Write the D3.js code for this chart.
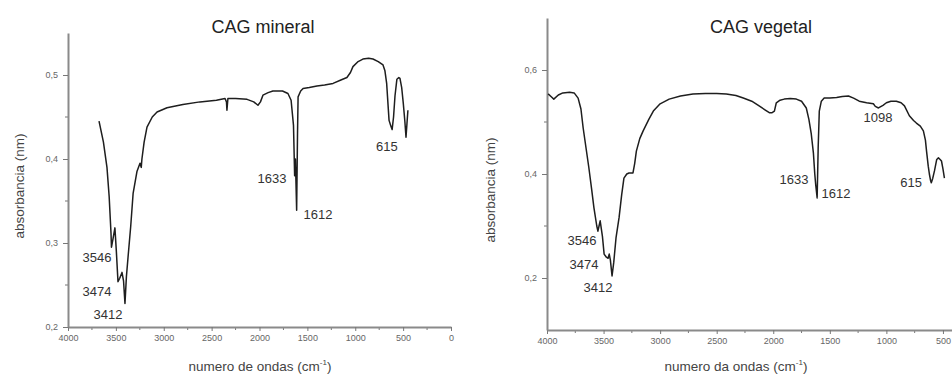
<!DOCTYPE html>
<html>
<head>
<meta charset="utf-8">
<script src="https://cdn.jsdelivr.net/npm/d3@7"></script>
<style>
  body { margin: 0; background: #fff; }
  svg { display: block; font-family: "Liberation Sans", Arial, sans-serif; }
</style>
</head>
<body>
<script>
// spectra (wavenumber cm-1, absorbance)
var mineralWave = [3676, 3630, 3593, 3570, 3551, 3546, 3530, 3510, 3495, 3478, 3460, 3436, 3420, 3405, 3390, 3373, 3345, 3320, 3280, 3248, 3235, 3228, 3205, 3175, 3120, 3070, 2966, 2800, 2622, 2450, 2360, 2345, 2340, 2330, 2250, 2130, 2060, 2016, 1990, 1964, 1910, 1860, 1760, 1703, 1670, 1645, 1633, 1625, 1612, 1603, 1597, 1570, 1545, 1480, 1400, 1320, 1232, 1150, 1087, 1050, 1024, 970, 920, 860, 815, 760, 710, 690, 672, 655, 647, 630, 615, 600, 585, 565, 545, 533, 515, 498, 482, 470, 460, 450];
var mineralAbs  = [0.445, 0.42, 0.39, 0.355, 0.312, 0.295, 0.305, 0.318, 0.29, 0.254, 0.258, 0.265, 0.255, 0.228, 0.26, 0.283, 0.32, 0.359, 0.385, 0.395, 0.39, 0.40, 0.42, 0.438, 0.45, 0.456, 0.461, 0.465, 0.468, 0.47, 0.472, 0.468, 0.458, 0.472, 0.472, 0.471, 0.468, 0.464, 0.468, 0.476, 0.479, 0.481, 0.481, 0.478, 0.47, 0.44, 0.38, 0.40, 0.339, 0.43, 0.474, 0.481, 0.484, 0.485, 0.487, 0.488, 0.490, 0.494, 0.497, 0.503, 0.510, 0.516, 0.519, 0.520, 0.519, 0.516, 0.512, 0.505, 0.49, 0.46, 0.446, 0.44, 0.435, 0.45, 0.475, 0.495, 0.497, 0.496, 0.485, 0.466, 0.445, 0.426, 0.442, 0.458];

var vegetalWave = [3990, 3960, 3940, 3900, 3860, 3800, 3760, 3725, 3700, 3680, 3655, 3630, 3605, 3585, 3560, 3550, 3540, 3530, 3510, 3495, 3475, 3460, 3450, 3440, 3425, 3410, 3390, 3363, 3340, 3320, 3295, 3275, 3240, 3225, 3210, 3180, 3150, 3100, 3060, 3000, 2920, 2820, 2710, 2600, 2500, 2415, 2330, 2265, 2190, 2125, 2070, 2035, 2010, 1990, 1973, 1940, 1903, 1850, 1796, 1750, 1708, 1685, 1664, 1645, 1633, 1625, 1612, 1603, 1593, 1575, 1550, 1500, 1440, 1390, 1335, 1290, 1240, 1175, 1115, 1098, 1070, 1030, 1000, 960, 912, 870, 840, 797, 760, 735, 700, 673, 655, 645, 630, 620, 610, 603, 590, 575, 555, 540, 525, 513, 500, 487];
var vegetalAbs  = [0.554, 0.548, 0.544, 0.552, 0.556, 0.557, 0.556, 0.546, 0.525, 0.488, 0.45, 0.412, 0.37, 0.335, 0.30, 0.29, 0.30, 0.31, 0.28, 0.246, 0.240, 0.238, 0.246, 0.235, 0.204, 0.23, 0.277, 0.316, 0.36, 0.392, 0.40, 0.402, 0.402, 0.42, 0.444, 0.468, 0.483, 0.505, 0.521, 0.535, 0.544, 0.55, 0.554, 0.555, 0.555, 0.554, 0.551, 0.546, 0.54, 0.531, 0.523, 0.518, 0.518, 0.521, 0.537, 0.542, 0.544, 0.545, 0.544, 0.54, 0.527, 0.505, 0.477, 0.44, 0.40, 0.38, 0.354, 0.45, 0.521, 0.54, 0.546, 0.546, 0.547, 0.549, 0.550, 0.546, 0.540, 0.537, 0.535, 0.530, 0.527, 0.532, 0.537, 0.540, 0.540, 0.537, 0.531, 0.512, 0.503, 0.498, 0.492, 0.483, 0.465, 0.444, 0.415, 0.40, 0.388, 0.383, 0.392, 0.406, 0.428, 0.431, 0.428, 0.425, 0.41, 0.392];

// peak labels: text, wavenumber and absorbance where the label sits
var mineralLabels = [["3546", 3697, 0.277], ["3474", 3697, 0.237], ["3412", 3582, 0.209], ["1633", 1870, 0.371], ["1612", 1390, 0.329], ["615", 670, 0.410]];
var vegetalLabels = [["3546", 3691, 0.263], ["3474", 3673, 0.217], ["3412", 3549, 0.173], ["1633", 1816, 0.381], ["1612", 1445, 0.354], ["1098", 1074, 0.500], ["615", 782, 0.375]];

var mineralYTicks = [0.2, 0.3, 0.4, 0.5];
var vegetalYTicks = [0.2, 0.4, 0.6];
var xTickValues = [4000, 3500, 3000, 2500, 2000, 1500, 1000, 500, 0];

var svg = d3.select("body").append("svg")
  .attr("width", 952)
  .attr("height", 374);

var fmt = function(d) { return d3.format(".1f")(d).replace(".", ","); };

var drawPanel = function(p) {
  var x = d3.scaleLinear().domain(p.xDomain).range(p.xRange);
  var y = d3.scaleLinear().domain(p.yDomain).range(p.yRange);
  var g = svg.append("g");

  // minor ticks
  var minorX = d3.range(p.xDomain[0] - 250, p.xDomain[1], -500);
  g.selectAll(".mx").data(minorX).enter().append("line")
    .attr("x1", function(d) { return x(d); }).attr("x2", function(d) { return x(d); })
    .attr("y1", p.yRange[0]).attr("y2", p.yRange[0] + 3)
    .attr("stroke", "#777").attr("stroke-width", 1);
  g.selectAll(".my").data(p.yMinor).enter().append("line")
    .attr("x1", p.xRange[0] - 3).attr("x2", p.xRange[0])
    .attr("y1", function(d) { return y(d); }).attr("y2", function(d) { return y(d); })
    .attr("stroke", "#777").attr("stroke-width", 1);

  // axes
  var xAxis = g.append("g")
    .attr("transform", "translate(0," + p.yRange[0] + ")")
    .call(d3.axisBottom(x).tickValues(xTickValues.filter(function(d) { return d <= p.xDomain[0] && d >= p.xDomain[1]; }))
      .tickSize(4).tickSizeOuter(0).tickFormat(d3.format("d")));
  var yAxis = g.append("g")
    .attr("transform", "translate(" + p.xRange[0] + ",0)")
    .call(d3.axisLeft(y).tickValues(p.yTicks).tickSize(5).tickPadding(5).tickSizeOuter(0).tickFormat(fmt));
  [xAxis, yAxis].forEach(function(a) {
    a.select(".domain").attr("stroke", "#8a8a8a").attr("stroke-width", 2);
    a.selectAll(".tick line").attr("stroke", "#777");
    a.selectAll(".tick text").attr("fill", "#666").style("font-size", "9px");
  });
  xAxis.selectAll(".tick text").attr("dy", "0.8em");

  // spectrum
  var pts = p.wave.map(function(w, i) { return [w, p.abs[i]]; });
  g.append("path").datum(pts)
    .attr("fill", "none").attr("stroke", "#1e1e1e").attr("stroke-width", 1.5)
    .attr("stroke-linejoin", "round")
    .attr("d", d3.line().x(function(d) { return x(d[0]); }).y(function(d) { return y(d[1]); }));

  // peak labels
  g.selectAll(".pk").data(p.labels).enter().append("text")
    .attr("x", function(d) { return x(d[1]); })
    .attr("y", function(d) { return y(d[2]); })
    .attr("text-anchor", "middle")
    .attr("fill", "#333").style("font-size", "13px")
    .text(function(d) { return d[0]; });

  g.append("text").attr("x", p.titleX).attr("y", 33).attr("text-anchor", "middle")
    .attr("fill", "#222").style("font-size", "18px").text(p.title);
  g.append("text").attr("x", p.xLabelX).attr("y", 371).attr("text-anchor", "middle")
    .attr("fill", "#444").style("font-size", "13.5px")
    .html(p.xLabel + " (cm<tspan dy='-6' font-size='8px'>-1</tspan><tspan dy='6'>)</tspan>");
  g.append("text")
    .attr("transform", "translate(" + p.yLabelX + "," + p.yLabelY + ") rotate(-90)")
    .attr("text-anchor", "middle").attr("fill", "#444").style("font-size", "13.5px")
    .text("absorbancia (nm)");
};

drawPanel({
  wave: mineralWave, abs: mineralAbs, labels: mineralLabels,
  xDomain: [4000, 0], xRange: [68, 451],
  yDomain: [0.2, 0.55], yRange: [327, 33],
  yTicks: mineralYTicks, yMinor: [0.25, 0.35, 0.45],
  title: "CAG mineral", titleX: 263, xLabel: "numero de ondas", xLabelX: 260,
  yLabelX: 24, yLabelY: 186
});

drawPanel({
  wave: vegetalWave, abs: vegetalAbs, labels: vegetalLabels,
  xDomain: [4000, 420], xRange: [547, 952],
  yDomain: [0.1, 0.7], yRange: [330, 18],
  yTicks: vegetalYTicks, yMinor: [0.3, 0.5],
  title: "CAG vegetal", titleX: 761, xLabel: "numero da ondas", xLabelX: 736,
  yLabelX: 495, yLabelY: 190
});
</script>
</body>
</html>
